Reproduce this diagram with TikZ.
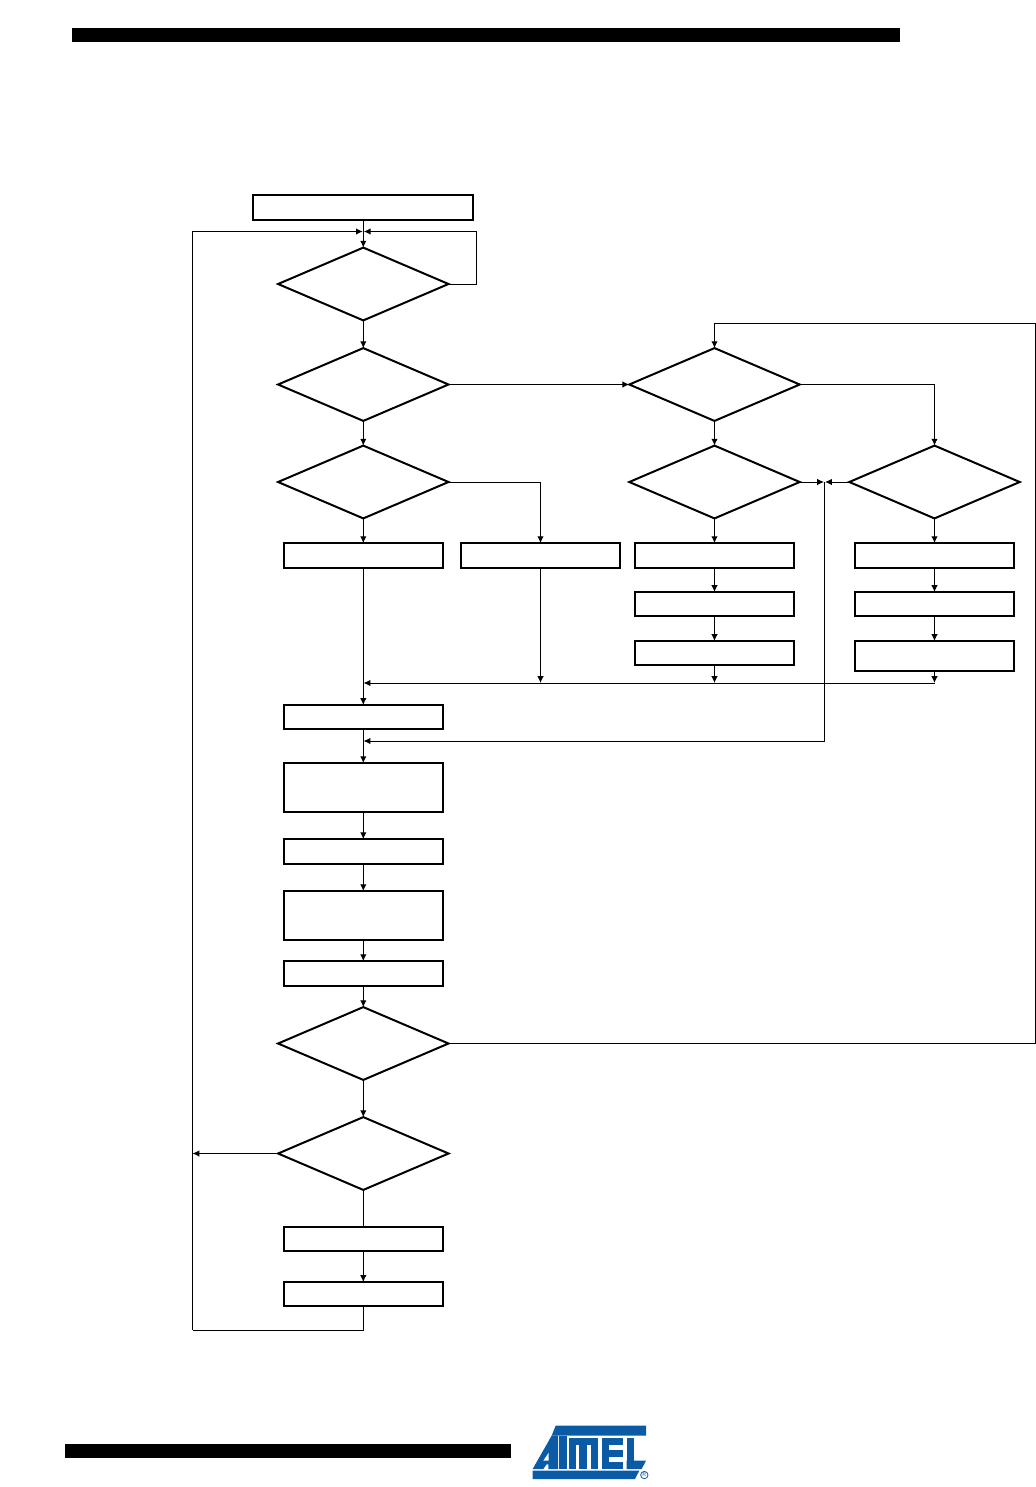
\documentclass[tikz,border=0pt]{standalone}
\usepackage{xcolor}
\usepackage{tikz}
\usetikzlibrary{shapes,arrows,positioning,calc,arrows.meta}
\definecolor{logoblue}{HTML}{0B5AA6}
\tikzset{
    procbox/.style={draw=black, line width=0.05cm, fill=white, inner sep=0pt, outer sep=0pt, minimum width=3.98cm},
    decbox/.style={diamond, draw=black, line width=0.05cm, fill=white, inner sep=0pt, outer sep=0pt, minimum width=4.26cm, minimum height=1.82cm},
    flow/.style={line width=0.025cm},
    flowarrow/.style={flow, -{Latex[length=0.17cm,width=0.16cm]}}
}
\begin{document}
\begin{tikzpicture}[x=0.025cm, y=-0.025cm]
    \useasboundingbox (0,0) rectangle (1036,1487);

    % Page bars
    \fill[black] (72,28) rectangle (900,42);
    \fill[black] (65,1444) rectangle (511,1458);

    % Left column
    \node[procbox, minimum width=5.5cm, minimum height=0.62cm] (start) at (363.3,207.5) {};
    \node[decbox] (waitDec) at (363.3,284) {};
    \node[decbox] (modeDec) at (363.3,384.5) {};
    \node[decbox] (leftDec) at (363.3,482) {};
    \node[procbox, minimum height=0.62cm] (leftBox) at (363.3,555.5) {};
    \node[procbox, minimum height=0.62cm] (midBox) at (540.5,555.5) {};
    \node[procbox, minimum height=0.6cm] (loadBox) at (363.3,717) {};
    \node[procbox, minimum height=1.22cm] (calcA) at (363.3,787.5) {};
    \node[procbox, minimum height=0.62cm] (stepA) at (363.3,851.5) {};
    \node[procbox, minimum height=1.22cm] (calcB) at (363.3,915.5) {};
    \node[procbox, minimum height=0.62cm] (stepB) at (363.3,973.5) {};
    \node[decbox] (repeatDec) at (363.3,1043.5) {};
    \node[decbox] (endDec) at (363.3,1153.5) {};
    \node[procbox, minimum height=0.6cm] (endA) at (363.3,1239) {};
    \node[procbox, minimum height=0.6cm] (endB) at (363.3,1294) {};

    % Middle column
    \node[decbox] (upperDec) at (714.5,384.5) {};
    \node[decbox] (midDec) at (714.5,482) {};
    \node[procbox, minimum height=0.62cm] (midA) at (714.5,555.5) {};
    \node[procbox, minimum height=0.6cm] (midB) at (714.5,604) {};
    \node[procbox, minimum height=0.6cm] (midC) at (714.5,653) {};

    % Right column
    \node[decbox] (rightDec) at (934.5,482) {};
    \node[procbox, minimum height=0.62cm] (rightA) at (934.5,555.5) {};
    \node[procbox, minimum height=0.6cm] (rightB) at (934.5,604) {};
    \node[procbox, minimum height=0.75cm] (rightC) at (934.5,656) {};

    % Free ends
    \coordinate (joinL) at (362.8,231.5);
    \coordinate (joinR) at (363.8,231.5);
    \coordinate (loopCorner) at (476.5,231.5);
    \coordinate (backBottom) at (192.5,1330);
    \coordinate (backTop) at (192.5,231.5);
    \coordinate (backMid) at (192.5,1153.5);
    \coordinate (mergeL) at (824,482);
    \coordinate (mergeR) at (825,482);
    \coordinate (mergeLine) at (824.5,482);
    \coordinate (mergeCorner) at (824.5,741);
    \coordinate (reloadEnd) at (363.5,741);
    \coordinate (rowEnd) at (363.5,683);
    \coordinate (rowStart) at (934.5,683);
    \coordinate (rowMid) at (540.5,683);
    \coordinate (rowUpper) at (714.5,683);
    \coordinate (outerLow) at (1035.5,1043.5);
    \coordinate (outerHigh) at (1035.5,323);

    % Left connectors
    \draw[flowarrow] (start.south) -- (waitDec.north);
    \draw[flowarrow] (backBottom) -- (backTop) -- (joinL);
    \draw[flow] (endB.south) |- (backBottom);
    \draw[flowarrow] (waitDec.east) -| (loopCorner) -- (joinR);
    \draw[flowarrow] (waitDec.south) -- (modeDec.north);
    \draw[flowarrow] (modeDec.south) -- (leftDec.north);
    \draw[flowarrow] (leftDec.south) -- (leftBox.north);
    \draw[flowarrow] (leftDec.east) -| (midBox.north);
    \draw[flowarrow] (leftBox.south) -- (loadBox.north);
    \draw[flowarrow] (loadBox.south) -- (calcA.north);
    \draw[flowarrow] (calcA.south) -- (stepA.north);
    \draw[flowarrow] (stepA.south) -- (calcB.north);
    \draw[flowarrow] (calcB.south) -- (stepB.north);
    \draw[flowarrow] (stepB.south) -- (repeatDec.north);
    \draw[flowarrow] (repeatDec.south) -- (endDec.north);
    \draw[flowarrow] (endDec.west) -- (backMid);
    \draw[flow] (endDec.south) -- (endA.north);
    \draw[flowarrow] (endA.south) -- (endB.north);

    % Right connectors
    \draw[flowarrow] (modeDec.east) -- (upperDec.west);
    \draw[flowarrow] (upperDec.south) -- (midDec.north);
    \draw[flowarrow] (upperDec.east) -| (rightDec.north);
    \draw[flowarrow] (midDec.south) -- (midA.north);
    \draw[flowarrow] (midA.south) -- (midB.north);
    \draw[flowarrow] (midB.south) -- (midC.north);
    \draw[flowarrow] (rightDec.south) -- (rightA.north);
    \draw[flowarrow] (rightA.south) -- (rightB.north);
    \draw[flowarrow] (rightB.south) -- (rightC.north);
    \draw[flowarrow] (midDec.east) -- (mergeL);
    \draw[flowarrow] (rightDec.west) -- (mergeR);
    \draw[flowarrow] (mergeLine) -- (mergeCorner) -- (reloadEnd);
    \draw[flowarrow] (rowStart) -- (rowEnd);
    \draw[flowarrow] (midBox.south) -- (rowMid);
    \draw[flowarrow] (midC.south) -- (rowUpper);
    \draw[flowarrow] (rightC.south) -- (rowStart);
    \draw[flowarrow] (repeatDec.east) -- (outerLow) -- (outerHigh) -| (upperDec.north);

    % Logo
    \begin{scope}[shift={(520,1410)}, scale=1/3, logoblue]
        \fill (107,47) -- (378,47) -- (378,77) -- (95,77) -- cycle;
        \fill (38,177) -- (95,77) -- (114,77) -- (114,177) -- (85,177) -- (85,163) -- (80,163) -- (70,177) -- cycle;
        \fill[white] (86,128) -- (86,152) -- (70,152) -- cycle;
        \fill (118,77) rectangle (140,177);
        \fill (146,84) rectangle (168,177);
        \fill (178,84) rectangle (201,177);
        \fill (212,84) rectangle (235,177);
        \fill (146,84) rectangle (235,104);
        \fill (245,84) rectangle (268,177);
        \fill (245,84) rectangle (310,104);
        \fill (245,120) rectangle (310,140);
        \fill (245,156) rectangle (310,177);
        \fill (320,84) rectangle (343,177);
        \fill (320,152) -- (378,152) -- (365,177) -- (320,177) -- cycle;
        \fill (38,182) -- (358,182) -- (345,207) -- (38,207) -- cycle;
        \draw[line width=0.02cm] (373,195) circle (11);
        \node[text=logoblue, font=\fontsize{4}{4}\selectfont\sffamily, inner sep=0pt] (regMark) at (373,195) {R};
    \end{scope}
\end{tikzpicture}
\end{document}
